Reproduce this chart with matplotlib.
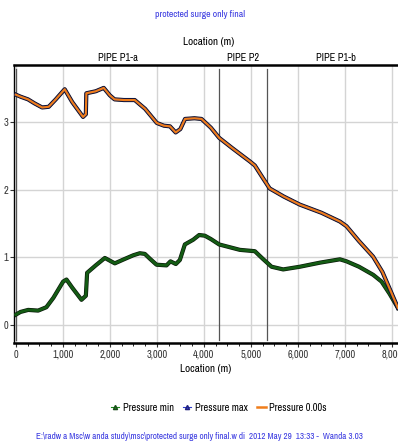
import matplotlib.pyplot as plt
import matplotlib.patheffects as pe
from matplotlib.ticker import MultipleLocator, FuncFormatter
from matplotlib.lines import Line2D

plt.rcParams['font.family'] = ['Archivo Narrow', 'DejaVu Sans']

# pressure envelope along the pipeline
x_max = [0, 100, 260, 400, 560, 700, 850, 1040, 1200, 1430, 1490, 1500, 1700, 1870,
         2000, 2100, 2300, 2530, 2750, 3000, 3150, 3280, 3400, 3500, 3600, 3800, 3950,
         4150, 4326, 4600, 4980, 5085, 5250, 5400, 5700, 6043, 6500, 6894, 7035,
         7300, 7600, 7800, 8128]
p_max = [3.41, 3.38, 3.34, 3.28, 3.22, 3.23, 3.34, 3.49, 3.30, 3.08, 3.12, 3.43, 3.46, 3.51,
         3.40, 3.34, 3.33, 3.33, 3.20, 2.99, 2.95, 2.94, 2.85, 2.90, 3.05, 3.06, 3.05,
         2.92, 2.77, 2.62, 2.42, 2.36, 2.18, 2.02, 1.90, 1.78, 1.66, 1.53, 1.46,
         1.24, 1.01, 0.78, 0.25]
p_init = p_max

x_min = [0, 100, 263, 475, 650, 800, 1007, 1078, 1200, 1397, 1490, 1517, 1700, 1894,
         2106, 2300, 2500, 2638, 2745, 2850, 2993, 3206, 3290, 3404, 3490, 3596, 3773,
         3900, 4020, 4150, 4326, 4766, 5085, 5250, 5440, 5688, 6043, 6468, 6894, 7035,
         7300, 7602, 7780, 7950, 8128]
p_min = [0.15, 0.19, 0.22, 0.21, 0.26, 0.40, 0.64, 0.67, 0.55, 0.37, 0.43, 0.77, 0.88, 0.99,
         0.91, 0.97, 1.03, 1.06, 1.05, 0.98, 0.89, 0.88, 0.94, 0.90, 0.96, 1.19, 1.26,
         1.33, 1.32, 1.27, 1.19, 1.11, 1.09, 0.98, 0.86, 0.82, 0.86, 0.92, 0.97, 0.94,
         0.86, 0.74, 0.64, 0.46, 0.25]

pipe_names = ['PIPE P1-a', 'PIPE P2', 'PIPE P1-b']
pipe_ends = [0, 4326, 5334]
pipe_label_x = [2180, 4840, 6800]

fig = plt.figure(figsize=(3.98, 4.47), dpi=100)
ax = fig.add_axes([0.035, 0.2327, 0.965, 0.622])

ax.plot(x_min, p_min, color='#145c14', lw=2.0, solid_joinstyle='round',
        path_effects=[pe.Stroke(linewidth=3.0, foreground='#0a1a0a'), pe.Normal()], zorder=3)
ax.plot(x_max, p_max, color='#1a1f5a', lw=2.2,
        path_effects=[pe.Stroke(linewidth=3.0, foreground='#0c0c20'), pe.Normal()], zorder=3)
ax.plot(x_max, p_init, color='#f07d1a', lw=1.5, zorder=4)

for xp in pipe_ends:
    ax.axvline(xp, ymin=0.01, ymax=0.986, color='#555555', lw=0.9, zorder=2)

ax.set_xlim(-40, 8130)
ax.set_ylim(-0.27, 3.85)
ax.xaxis.set_major_locator(MultipleLocator(1000))
ax.xaxis.set_minor_locator(MultipleLocator(250))
ax.yaxis.set_major_locator(MultipleLocator(1))
ax.xaxis.set_major_formatter(FuncFormatter(lambda v, p: f'{v:,.0f}'))
ax.grid(True, color='#d4d4d4', lw=1.0, zorder=0)
ax.tick_params(axis='both', labelsize=7.5, length=3, width=0.8, colors='#333333', pad=2)
ax.tick_params(axis='x', which='minor', length=2, width=0.6)
ax.tick_params(axis='y', pad=1)

for side in ['top', 'bottom']:
    ax.spines[side].set_linewidth(1.8)
ax.spines['left'].set_linewidth(1.0)
ax.spines['right'].set_visible(False)

ax.set_xlabel('Location (m)', fontsize=8, labelpad=3)

# pipe names and top axis caption
for name, xp in zip(pipe_names, pipe_label_x):
    ax.text(xp, 1.006, name, transform=ax.get_xaxis_transform(), ha='center',
            va='bottom', fontsize=7.5)
fig.text(0.525, 0.905, 'Location (m)', ha='center', va='center', fontsize=8)
fig.text(0.503, 0.968, 'protected surge only final', ha='center', va='center',
         fontsize=7, color='#3a3ae0')

handles = [
    Line2D([], [], color='#1a8a1a', marker='^', markersize=3, lw=0.8,
           markeredgecolor='#1a4a1a'),
    Line2D([], [], color='#2b3acb', marker='^', markersize=3, lw=0.8,
           markeredgecolor='#20207a'),
    Line2D([], [], color='#f07d1a', lw=1.8),
]
fig.legend(handles, ['Pressure min', 'Pressure max', 'Pressure 0.00s'],
           loc='center', bbox_to_anchor=(0.55, 0.087), ncol=3, frameon=False,
           fontsize=7.5, handlelength=0.8, handletextpad=0.35, columnspacing=0.9)
fig.text(0.5, 0.024, 'E:\\radw a Msc\\w anda study\\msc\\protected surge only final.w di  '
         '2012 May 29  13:33 -  Wanda 3.03', ha='center', va='center', fontsize=6.5,
         color='#3a3ae0')

fig.savefig('out.png', dpi=100)
